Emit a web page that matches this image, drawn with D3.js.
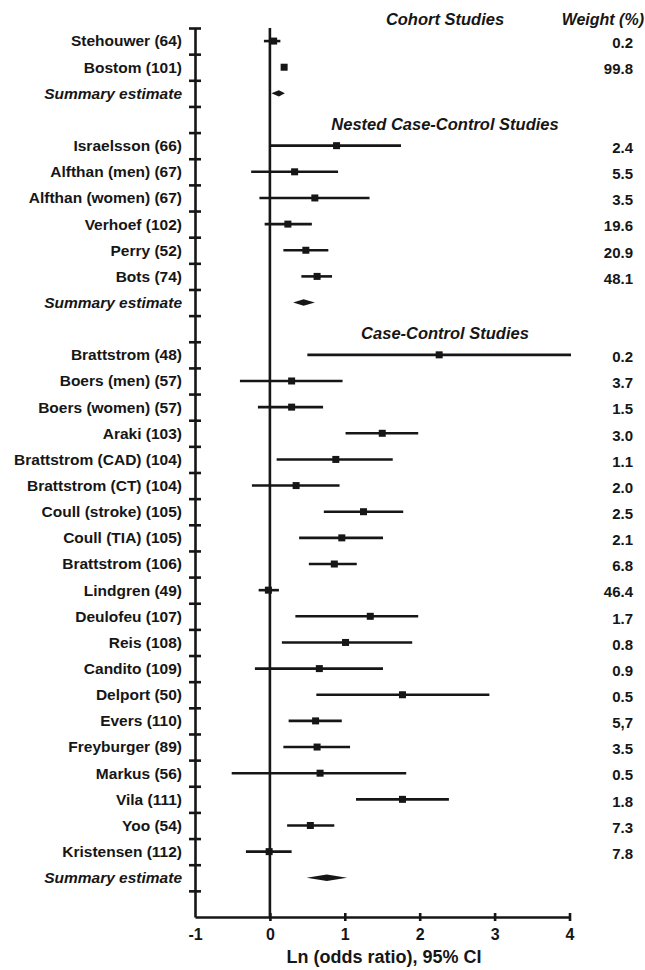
<!DOCTYPE html>
<html>
<head>
<meta charset="utf-8">
<script src="https://cdn.jsdelivr.net/npm/d3@7"></script>
<style>
  body { margin: 0; background: #fff; }
  svg text { font-family: "Liberation Sans", Arial, sans-serif; font-weight: bold; fill: #161616; }
</style>
</head>
<body>
<div id="chart"></div>
<script>
// rows, top to bottom ("" = empty spacer row)
const labels = [
  'Stehouwer (64)', 'Bostom (101)', 'Summary estimate', '',
  'Israelsson (66)', 'Alfthan (men) (67)', 'Alfthan (women) (67)', 'Verhoef (102)',
  'Perry (52)', 'Bots (74)', 'Summary estimate', '',
  'Brattstrom (48)', 'Boers (men) (57)', 'Boers (women) (57)', 'Araki (103)',
  'Brattstrom (CAD) (104)', 'Brattstrom (CT) (104)', 'Coull (stroke) (105)', 'Coull (TIA) (105)',
  'Brattstrom (106)', 'Lindgren (49)', 'Deulofeu (107)', 'Reis (108)',
  'Candito (109)', 'Delport (50)', 'Evers (110)', 'Freyburger (89)',
  'Markus (56)', 'Vila (111)', 'Yoo (54)', 'Kristensen (112)',
  'Summary estimate', ''
];
const estimates = [
  0.05, 0.19, 0.12, null,
  0.89, 0.33, 0.60, 0.24, 0.48, 0.63, 0.45, null,
  2.26, 0.29, 0.29, 1.50, 0.88, 0.35, 1.25, 0.96,
  0.86, -0.02, 1.34, 1.01, 0.66, 1.77, 0.61, 0.63,
  0.67, 1.77, 0.54, -0.01, 0.76, null
];
const lower = [
  -0.08, 0.17, 0.02, null,
  0.00, -0.25, -0.14, -0.07, 0.18, 0.42, 0.31, null,
  0.50, -0.40, -0.16, 1.01, 0.09, -0.24, 0.72, 0.39,
  0.52, -0.15, 0.34, 0.16, -0.20, 0.62, 0.25, 0.18,
  -0.51, 1.15, 0.23, -0.32, 0.49, null
];
const upper = [
  0.14, 0.21, 0.20, null,
  1.75, 0.91, 1.33, 0.56, 0.78, 0.83, 0.60, null,
  4.02, 0.97, 0.71, 1.98, 1.64, 0.93, 1.78, 1.51,
  1.16, 0.12, 1.98, 1.90, 1.51, 2.93, 0.96, 1.07,
  1.82, 2.39, 0.86, 0.29, 1.03, null
];
const weights = [
  '0.2', '99.8', '', '',
  '2.4', '5.5', '3.5', '19.6', '20.9', '48.1', '', '',
  '0.2', '3.7', '1.5', '3.0', '1.1', '2.0', '2.5', '2.1',
  '6.8', '46.4', '1.7', '0.8', '0.9', '0.5', '5,7', '3.5',
  '0.5', '1.8', '7.3', '7.8', '', ''
];
const groupTitles = ['Cohort Studies', 'Nested Case-Control Studies', 'Case-Control Studies'];
const groupRows = [-1, 3, 11];
const xTicks = [-1, 0, 1, 2, 3, 4];

const width = 645, height = 970;
const rows = labels.map((label, i) => ({
  i, label, est: estimates[i], lo: lower[i], hi: upper[i], w: weights[i],
  summary: label === 'Summary estimate'
}));

const svg = d3.select('#chart').append('svg')
  .attr('width', width)
  .attr('height', height);

const x = d3.scaleLinear().domain([-1, 4]).range([195, 569.5]);
const y = d3.scaleLinear().domain([-0.5, labels.length - 0.5]).range([28, 917]);

// left axis with crossing ticks between rows
const leftTicks = d3.range(-0.5, labels.length - 1, 1);
const gy = svg.append('g')
  .attr('transform', `translate(${x(-1)},0)`)
  .call(d3.axisLeft(y).tickValues(leftTicks).tickSize(6).tickSizeOuter(0).tickFormat(''));
gy.select('.domain').attr('stroke', '#161616').attr('stroke-width', 2.6);
gy.selectAll('.tick line').attr('x1', 6).attr('x2', -6).attr('stroke', '#161616').attr('stroke-width', 2.6);

// bottom axis
const gx = svg.append('g')
  .attr('transform', `translate(0,${y(labels.length - 0.5)})`)
  .call(d3.axisBottom(x).tickValues(xTicks).tickSize(4).tickSizeOuter(0).tickPadding(8).tickFormat(d => String(d)));
gx.select('.domain').attr('stroke', '#161616').attr('stroke-width', 2.6);
gx.selectAll('.tick line').attr('y1', -4).attr('stroke', '#161616').attr('stroke-width', 2.6)
  .filter(d => d === -1).remove();
gx.selectAll('.tick text').style('font-size', '16px').attr('fill', '#161616');

svg.append('text')
  .attr('x', 384).attr('y', 963)
  .attr('text-anchor', 'middle')
  .style('font-size', '18px')
  .text('Ln (odds ratio), 95% CI');

// line of no effect
svg.append('line')
  .attr('x1', x(0)).attr('x2', x(0))
  .attr('y1', y(-0.5)).attr('y2', y(labels.length - 0.5))
  .attr('stroke', '#161616').attr('stroke-width', 2.6);

// study labels
svg.append('g').selectAll('text')
  .data(rows.filter(d => d.label))
  .join('text')
  .attr('x', 182).attr('y', d => y(d.i))
  .attr('dy', '0.35em')
  .attr('text-anchor', 'end')
  .style('font-size', '15.5px')
  .style('font-style', d => d.summary ? 'italic' : 'normal')
  .text(d => d.label);

// weights
svg.append('g').selectAll('text')
  .data(rows.filter(d => d.w))
  .join('text')
  .attr('x', 633).attr('y', d => y(d.i) + 2)
  .attr('dy', '0.35em')
  .attr('text-anchor', 'end')
  .style('font-size', '15px')
  .text(d => d.w);

// group headers
svg.append('g').selectAll('text')
  .data(groupTitles)
  .join('text')
  .attr('x', 445)
  .attr('y', (d, k) => y(groupRows[k]) + 10)
  .attr('text-anchor', 'middle')
  .style('font-size', '16.5px')
  .style('font-style', 'italic')
  .text(d => d);

svg.append('text')
  .attr('x', 644).attr('y', y(-1) + 10)
  .attr('text-anchor', 'end')
  .style('font-size', '16px')
  .style('font-style', 'italic')
  .text('Weight (%)');

// confidence intervals and point estimates
const studies = rows.filter(d => d.est !== null && !d.summary);
svg.append('g').selectAll('line')
  .data(studies)
  .join('line')
  .attr('x1', d => x(d.lo)).attr('x2', d => x(d.hi))
  .attr('y1', d => y(d.i)).attr('y2', d => y(d.i))
  .attr('stroke', '#161616').attr('stroke-width', 2.6);

const sq = 7;
svg.append('g').selectAll('rect')
  .data(studies)
  .join('rect')
  .attr('x', d => x(d.est) - sq / 2).attr('y', d => y(d.i) - sq / 2)
  .attr('width', sq).attr('height', sq)
  .attr('fill', '#161616');

// summary diamonds
svg.append('g').selectAll('path')
  .data(rows.filter(d => d.summary))
  .join('path')
  .attr('d', d => {
    const yc = y(d.i);
    return `M${x(d.lo)},${yc}L${x(d.est)},${yc - 3.2}L${x(d.hi)},${yc}L${x(d.est)},${yc + 3.2}Z`;
  })
  .attr('fill', '#161616');
</script>
</body>
</html>
